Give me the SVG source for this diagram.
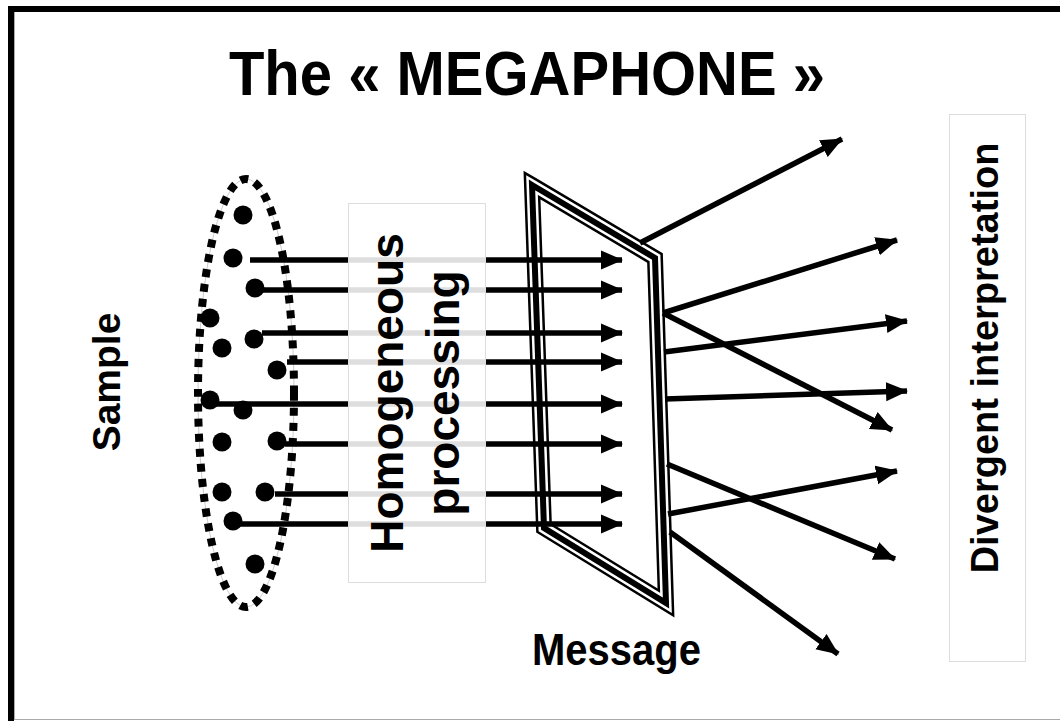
<svg xmlns="http://www.w3.org/2000/svg" width="1060" height="721" viewBox="0 0 1060 721">
<style>
.t{font-family:"Liberation Sans",Arial,sans-serif;font-weight:bold;fill:#000}
.ar{stroke:#000;stroke-width:5.5;fill:none}
.dot{fill:#000}
</style>
<defs>
<marker id="ah" markerUnits="userSpaceOnUse" markerWidth="22" markerHeight="20" refX="21" refY="10" orient="auto">
<path d="M0,0.5 L22,10 L0,19.5 z" fill="#000"/>
</marker>
</defs>
<rect x="0" y="0" width="1060" height="721" fill="#fff"/>
<g id="frame">
<rect x="14.5" y="11.5" width="1100" height="708" fill="none" stroke="#aaa" stroke-width="1"/>
<rect x="11" y="9" width="1100" height="800" fill="none" stroke="#000" stroke-width="6"/>
</g>
<g id="title"><text class="t" x="527" y="0" font-size="58" text-anchor="middle" transform="translate(0,95) scale(1,1.1)">The « MEGAPHONE »</text></g>
<g id="sample">
<text class="t" font-size="39" text-anchor="middle" transform="translate(120,382) rotate(-90)">Sample</text>
</g>
<g id="ellipse">
<ellipse cx="246" cy="393" rx="48" ry="214" fill="none" stroke="#ccc" stroke-width="1"/>
<ellipse cx="246" cy="393" rx="48" ry="214" fill="none" stroke="#000" stroke-width="8" stroke-dasharray="8 7"/>
</g>
<g id="message-frame">
<polygon points="532,185 655,258 666,603 544,528" fill="#fff" stroke="#000" stroke-width="16" stroke-linejoin="miter"/>
<polygon points="532,185 655,258 666,603 544,528" fill="none" stroke="#fff" stroke-width="11" stroke-linejoin="miter"/>
<polygon points="532,185 655,258 666,603 544,528" fill="none" stroke="#000" stroke-width="6" stroke-linejoin="miter"/>
</g>
<g id="connectors">
<line class="ar" x1="250" y1="260" x2="622" y2="260" marker-end="url(#ah)"/>
<line class="ar" x1="255" y1="290" x2="622" y2="290" marker-end="url(#ah)"/>
<line class="ar" x1="262" y1="333" x2="622" y2="333" marker-end="url(#ah)"/>
<line class="ar" x1="287" y1="362" x2="622" y2="362" marker-end="url(#ah)"/>
<line class="ar" x1="210" y1="404" x2="622" y2="404" marker-end="url(#ah)"/>
<line class="ar" x1="285" y1="444" x2="622" y2="444" marker-end="url(#ah)"/>
<line class="ar" x1="275" y1="494" x2="622" y2="494" marker-end="url(#ah)"/>
<line class="ar" x1="233" y1="524" x2="622" y2="524" marker-end="url(#ah)"/>
<line class="ar" x1="640" y1="243" x2="842" y2="139" marker-end="url(#ah)"/>
<line class="ar" x1="663" y1="313" x2="897" y2="240" marker-end="url(#ah)"/>
<line class="ar" x1="663" y1="313" x2="892" y2="430" marker-end="url(#ah)"/>
<line class="ar" x1="664" y1="352" x2="907" y2="321" marker-end="url(#ah)"/>
<line class="ar" x1="665" y1="399" x2="907" y2="391" marker-end="url(#ah)"/>
<line class="ar" x1="667" y1="464" x2="895" y2="559" marker-end="url(#ah)"/>
<line class="ar" x1="668" y1="514" x2="897" y2="471" marker-end="url(#ah)"/>
<line class="ar" x1="670" y1="532" x2="838" y2="654" marker-end="url(#ah)"/>
</g>
<g id="dots">
<circle class="dot" cx="243" cy="215" r="9.5"/>
<circle class="dot" cx="233" cy="258" r="9.5"/>
<circle class="dot" cx="255" cy="288" r="9.5"/>
<circle class="dot" cx="210" cy="318" r="9.5"/>
<circle class="dot" cx="254" cy="339" r="9.5"/>
<circle class="dot" cx="222" cy="348" r="9.5"/>
<circle class="dot" cx="277" cy="370" r="9.5"/>
<circle class="dot" cx="210" cy="400" r="9.5"/>
<circle class="dot" cx="243" cy="410" r="9.5"/>
<circle class="dot" cx="222" cy="442" r="9.5"/>
<circle class="dot" cx="277" cy="441" r="9.5"/>
<circle class="dot" cx="222" cy="492" r="9.5"/>
<circle class="dot" cx="265" cy="492" r="9.5"/>
<circle class="dot" cx="233" cy="521" r="9.5"/>
<circle class="dot" cx="255" cy="564" r="9.5"/>
</g>
<g id="homogeneous">
<rect x="348.5" y="203.5" width="137" height="379" fill="#fff" fill-opacity="0.87" stroke="#ddd" stroke-width="1"/>
<text class="t" font-size="46" text-anchor="middle" transform="translate(403,393) rotate(-90)">Homogeneous</text>
<text class="t" font-size="46" text-anchor="middle" transform="translate(459,393) rotate(-90)">processing</text>
</g>
<g id="message">
<text class="t" x="532" y="0" font-size="40" transform="translate(0,665) scale(1,1.1)">Message</text>
</g>
<g id="divergent">
<rect x="949.5" y="114.5" width="76" height="547" fill="#fff" stroke="#ddd" stroke-width="1"/>
<text class="t" font-size="38" text-anchor="middle" transform="translate(998,358) rotate(-90)">Divergent interpretation</text>
</g>
</svg>
